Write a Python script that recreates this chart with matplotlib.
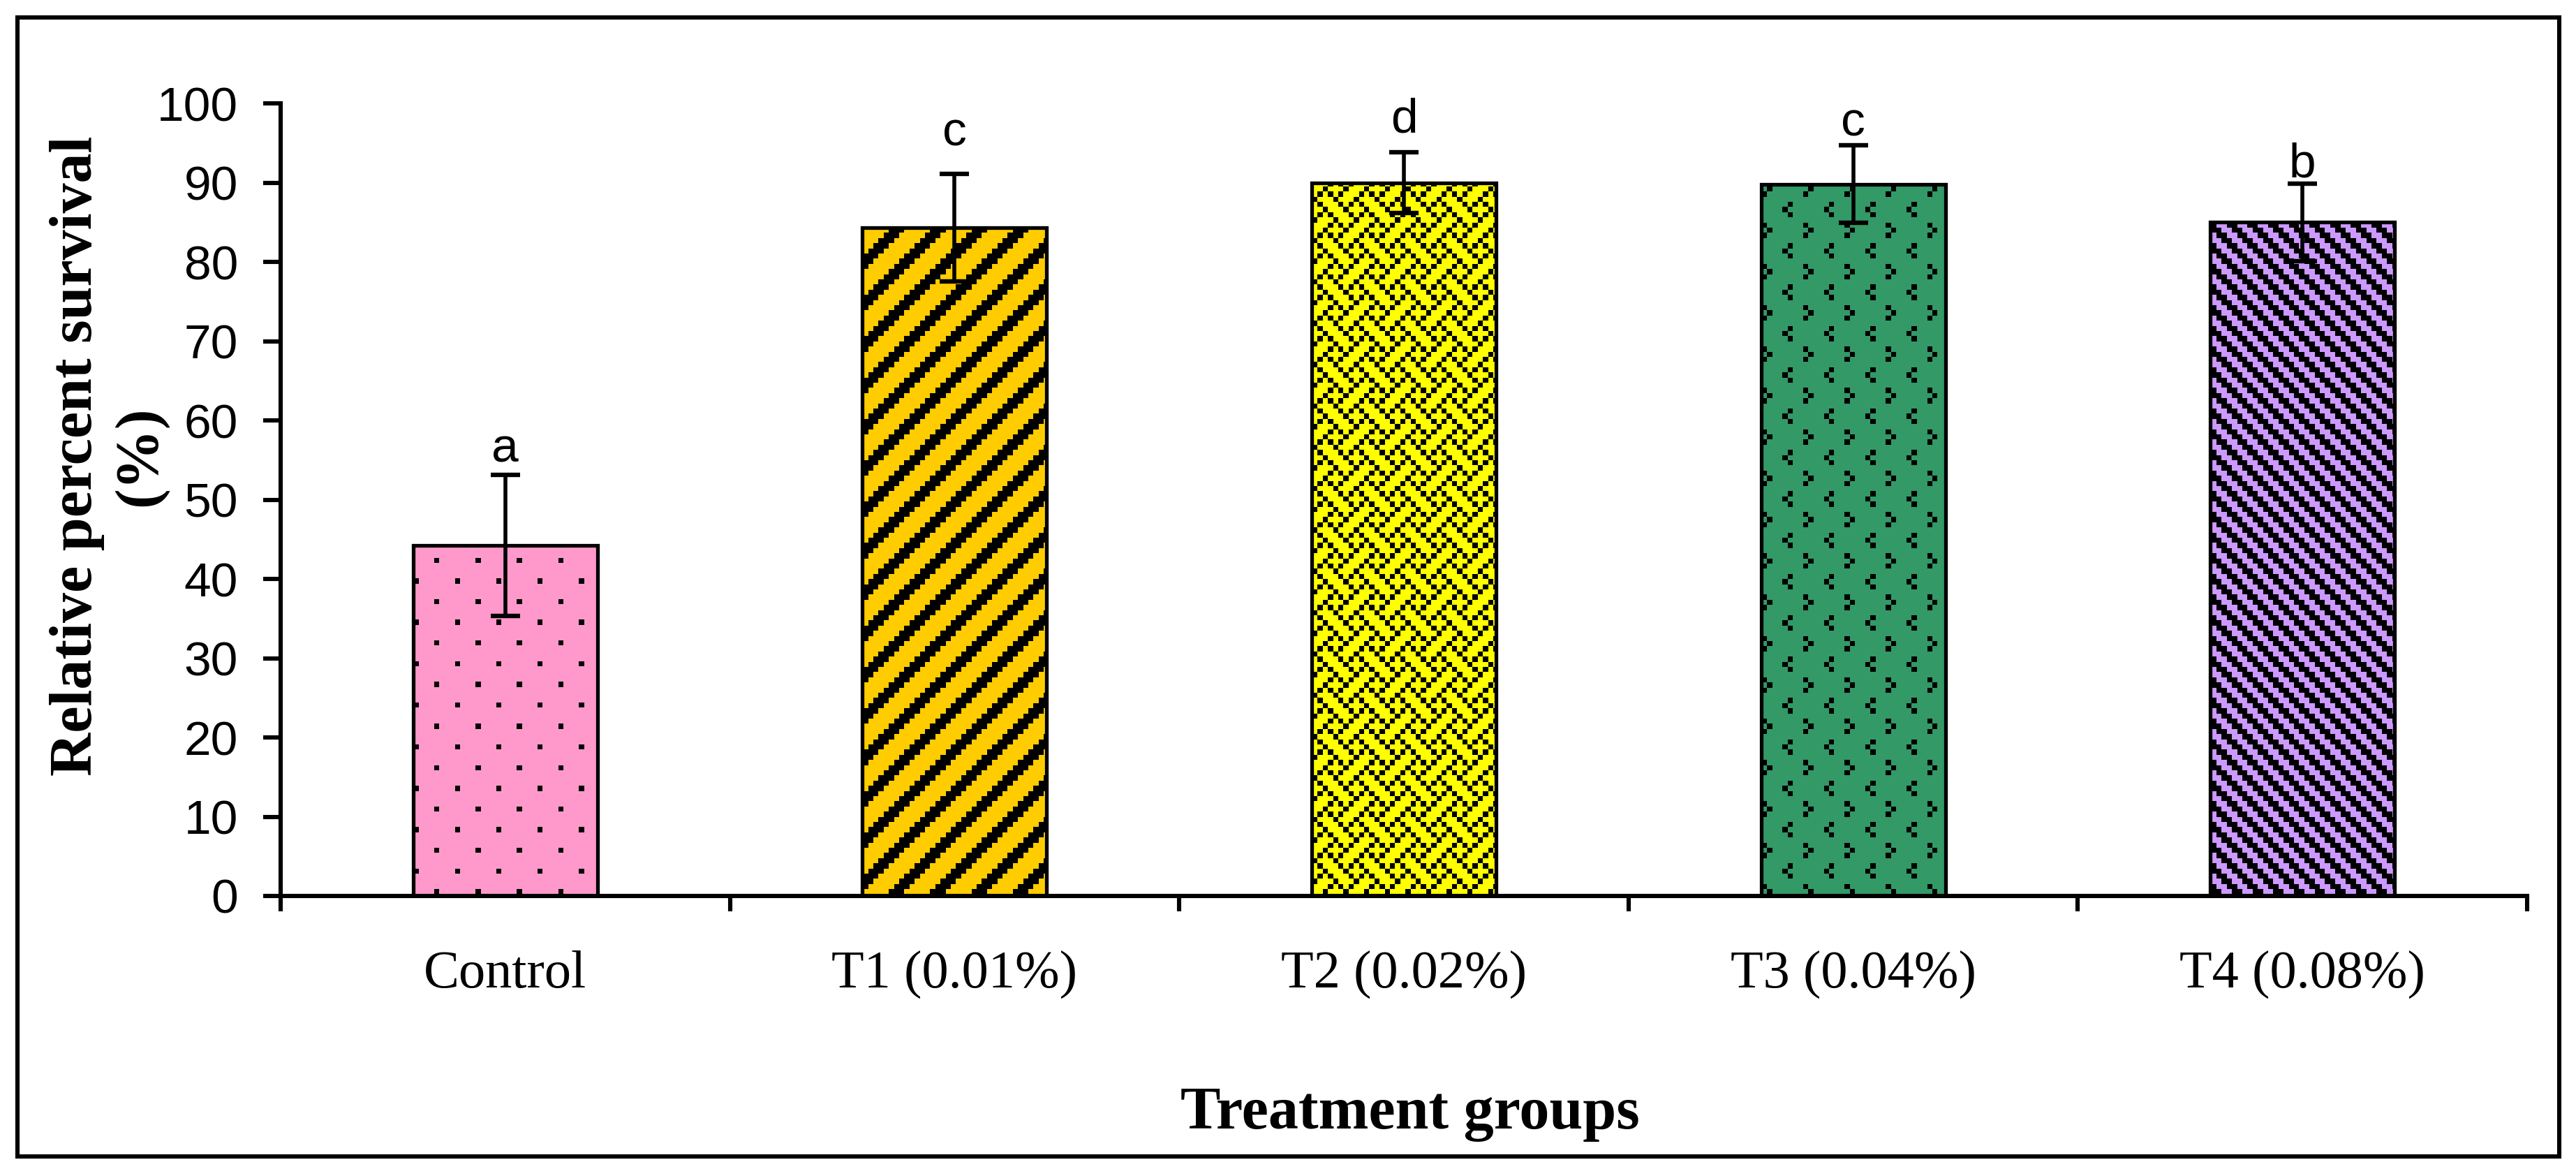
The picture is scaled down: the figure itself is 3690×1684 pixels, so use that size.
import numpy as np
import matplotlib
matplotlib.use("Agg")
import matplotlib.pyplot as plt
from matplotlib.patches import Rectangle

# ---------------- data ----------------
categories = ["Control", "T1 (0.01%)", "T2 (0.02%)", "T3 (0.04%)", "T4 (0.08%)"]
survival = [44.2, 84.3, 90.0, 89.8, 85.0]
errors = [8.9, 6.8, 3.8, 4.9, 4.9]
letters = ["a", "c", "d", "c", "b"]
y_ticks = [0, 10, 20, 30, 40, 50, 60, 70, 80, 90, 100]

# ---------------- style ----------------
colors = ["#FF99CC", "#FFCC00", "#FFFF00", "#339966", "#CC99FF"]
letter_gap = [1.7, 3.6, 2.5, 1.2, 0.8]
W, H, DPI = 3691, 1684, 200
U = 7.4  # pattern pixel size (px)

plt.rcParams["font.family"] = ["Liberation Sans", "DejaVu Sans"]

# Excel-like fill patterns (row 0 = top)
tile_dots = np.zeros((8, 8), bool)
tile_dots[0, 0] = tile_dots[4, 4] = True
tile_wide_up = np.zeros((8, 8), bool)
for r in range(8):
    for k in range(3):
        tile_wide_up[r, (k - r) % 8] = True
weave_rows = [0x88, 0x45, 0x22, 0x54, 0x88, 0x51, 0x22, 0x15]
tile_weave = np.array([[(b >> (7 - c)) & 1 for c in range(8)] for b in weave_rows], bool)
tile_divot = np.zeros((8, 8), bool)
for r, c in [(7, 2), (0, 1), (1, 2), (3, 5), (4, 6), (5, 5)]:
    tile_divot[r, c] = True
tile_dark_down = np.zeros((4, 4), bool)
for r in range(4):
    for k in range(2):
        tile_dark_down[r, (r + k) % 4] = True
tiles = [tile_dots, tile_wide_up, tile_weave, tile_divot, tile_dark_down]

fig = plt.figure(figsize=(W / DPI, H / DPI), dpi=DPI)
fig.patch.set_facecolor("white")
ax = fig.add_axes([402 / W, 1 - 1283 / H, (3620 - 402) / W, (1283 - 148) / H])

x = np.arange(len(categories))
bw = 0.41
bars = ax.bar(x, survival, width=bw, color=colors, linewidth=0, zorder=2)
ax.set_xlim(-0.5, len(categories) - 0.5)
ax.set_ylim(0, 100)

fig.canvas.draw()
renderer = fig.canvas.get_renderer()
inv = ax.transData.inverted()
for bar, tile in zip(bars, tiles):
    bb = bar.get_window_extent(renderer)
    x0, x1 = int(np.floor(bb.x0)), int(np.ceil(bb.x1))
    y0, y1 = int(np.floor(bb.y0)), int(np.ceil(bb.y1))
    cols = np.arange(x0, x1)
    rows_top = H - 1 - np.arange(y1 - 1, y0 - 1, -1)
    ty = np.floor(rows_top / U).astype(int) % tile.shape[0]
    tx = np.floor(cols / U).astype(int) % tile.shape[1]
    mask = tile[ty[:, None], tx[None, :]]
    rgba = np.zeros(mask.shape + (4,))
    rgba[..., 3] = mask.astype(float)
    ex0, ey0 = inv.transform((x0, y0))
    ex1, ey1 = inv.transform((x1, y1))
    ax.imshow(rgba, extent=(ex0, ex1, ey0, ey1), origin="upper",
              interpolation="nearest", aspect="auto", zorder=2.3, clip_path=bar)

ax.bar(x, survival, width=bw, fill=False, edgecolor="black", linewidth=1.9, zorder=3)
ax.errorbar(x, survival, yerr=errors, fmt="none", ecolor="black",
            elinewidth=2.0, capsize=7.5, capthick=2.3, zorder=4)
for xi, v, e, lt, g in zip(x, survival, errors, letters, letter_gap):
    ax.text(xi, v + e + g, lt, ha="center", va="baseline", fontsize=25,
            family="Liberation Sans", zorder=5)

ax.set_xlim(-0.5, len(categories) - 0.5)
ax.set_ylim(0, 100)

for s in ["top", "right"]:
    ax.spines[s].set_visible(False)
for s in ["left", "bottom"]:
    ax.spines[s].set_linewidth(2.2)
    ax.spines[s].set_zorder(2.5)

ax.set_yticks(y_ticks)
ax.tick_params(axis="y", direction="out", length=9, width=2.2, pad=13, labelsize=25)
ax.set_xticks(np.arange(-0.5, len(categories), 1.0))
ax.set_xticklabels([])
ax.tick_params(axis="x", which="major", direction="out", length=8, width=2.2)
ax.set_xticks(x, labels=categories, minor=True)
ax.tick_params(axis="x", which="minor", length=0, pad=28, labelsize=27.5)
for lbl in ax.get_xticklabels(minor=True):
    lbl.set_fontfamily("Liberation Serif")

fig.text(2020 / W, 1 - 1616 / H, "Treatment groups", ha="center", va="baseline",
         fontsize=31, fontweight="bold", family="Liberation Serif")
fig.text(156 / W, 1 - 653 / H, "Relative percent survival\n(%)", rotation=90,
         ha="center", va="center", multialignment="center",
         fontsize=31, fontweight="bold", family="Liberation Serif")

frame = Rectangle((25 / W, 1 - 1656 / H), (3666 - 25) / W, (1656 - 25) / H,
                  transform=fig.transFigure, fill=False, edgecolor="black",
                  linewidth=2.2, zorder=10)
fig.add_artist(frame)

fig.savefig("out.png", dpi=DPI, facecolor="white")
